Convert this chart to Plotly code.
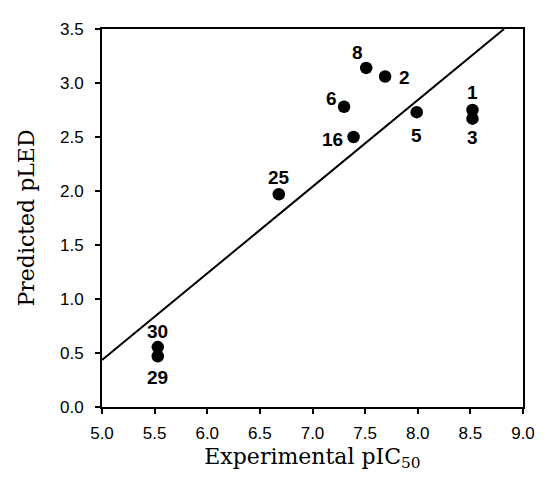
import plotly.graph_objects as go

# data
compound_labels = ["1", "2", "3", "5", "6", "8", "16", "25", "29", "30"]
experimental = [8.52, 7.69, 8.52, 7.99, 7.30, 7.51, 7.39, 6.68, 5.53, 5.53]
predicted = [2.75, 3.06, 2.67, 2.73, 2.78, 3.14, 2.50, 1.97, 0.47, 0.555]
label_shift_x = [0, 19, 0, 0, -13, -9, -21, 0, 0, 0]
label_shift_y = [18, -1, -19, -23, 8, 15, -2, 17, -21, 16]

fit_x = [5.0, 8.82]
fit_y = [0.435, 3.5]

x_ticks = [5.0, 5.5, 6.0, 6.5, 7.0, 7.5, 8.0, 8.5, 9.0]
y_ticks = [0.0, 0.5, 1.0, 1.5, 2.0, 2.5, 3.0, 3.5]

fig = go.Figure()
fig.add_trace(go.Scatter(x=fit_x, y=fit_y, mode="lines",
                         line=dict(color="black", width=2), showlegend=False,
                         hoverinfo="skip"))
fig.add_trace(go.Scatter(x=experimental, y=predicted, mode="markers",
                         marker=dict(color="black", size=12.5), showlegend=False))

for lab, xv, yv, dx, dy in zip(compound_labels, experimental, predicted, label_shift_x, label_shift_y):
    fig.add_annotation(x=xv, y=yv, text=f"<b>{lab}</b>", showarrow=False,
                       xshift=dx, yshift=dy,
                       font=dict(family="Liberation Sans, Arial", size=19, color="black"))

axis_common = dict(showgrid=False, zeroline=False, showline=True, linecolor="black",
                   linewidth=2, mirror=True, ticks="outside", ticklen=5, tickwidth=2,
                   tickcolor="black",
                   tickfont=dict(family="Liberation Sans, Arial", size=17, color="black"))

title_font = dict(family="DejaVu Serif, Liberation Serif", size=22, color="black")

fig.update_xaxes(range=[5.0, 9.0], tickvals=x_ticks,
                 ticktext=[f"{v:.1f}" for v in x_ticks], ticklabelstandoff=5,
                 title=dict(text="Experimental pIC<sub>50</sub>", standoff=6, font=title_font),
                 **axis_common)
fig.update_yaxes(range=[0.0, 3.5], tickvals=y_ticks,
                 ticktext=[f"{v:.1f}" for v in y_ticks], ticklabelstandoff=8,
                 title=dict(text="Predicted pLED", standoff=19, font=title_font),
                 **axis_common)

# page body has an 8px default margin: compensate so the plot lands where the reference has it
fig.update_layout(width=539, height=469, margin=dict(l=94, r=17, t=14, b=62),
                  plot_bgcolor="white", paper_bgcolor="white")

fig.write_html("out.html")
